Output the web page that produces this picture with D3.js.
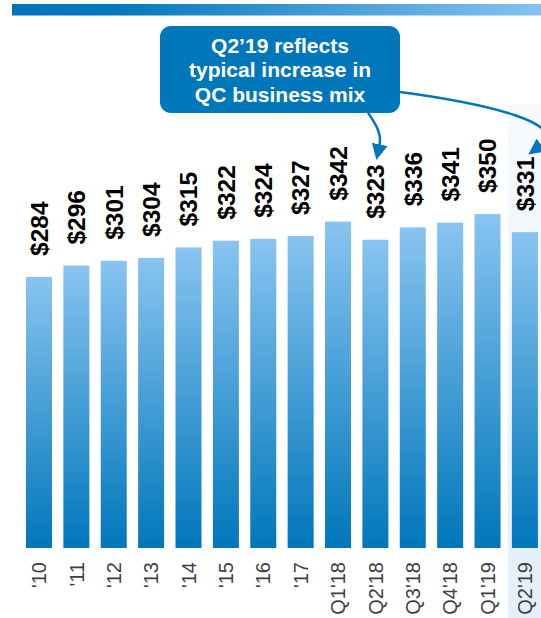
<!DOCTYPE html>
<html><head><meta charset="utf-8">
<script src="https://cdn.jsdelivr.net/npm/d3@7"></script>
<style>html,body{margin:0;padding:0;background:#fff;}svg{display:block;font-family:"Liberation Sans",Arial,sans-serif;}</style>
</head><body>
<script>
const categories = ["'10","'11","'12","'13","'14","'15","'16","'17","Q1'18","Q2'18","Q3'18","Q4'18","Q1'19","Q2'19"];
const values = [284,296,301,304,315,322,324,327,342,323,336,341,350,331];
const valueLabels = ["$284","$296","$301","$304","$315","$322","$324","$327","$342","$323","$336","$341","$350","$331"];
const calloutLines = ["Q2\u201919 reflects","typical increase in","QC business mix"];
const highlightCategory = "Q2'19";
const pointedCategories = ["Q2'18","Q2'19"];

const W = 541, H = 618;
const svg = d3.select("body").append("svg").attr("width", W).attr("height", H);
const defs = svg.append("defs");

const stripe = defs.append("linearGradient").attr("id","stripe").attr("x1","0").attr("x2","1").attr("y1","0").attr("y2","0");
stripe.append("stop").attr("offset","0").attr("stop-color","#0074b8");
stripe.append("stop").attr("offset","0.18").attr("stop-color","#0077bb");
stripe.append("stop").attr("offset","1").attr("stop-color","#86c2ef");

const barGrad = defs.append("linearGradient").attr("id","barGrad").attr("x1","0").attr("x2","0").attr("y1","0").attr("y2","1");
barGrad.append("stop").attr("offset","0").attr("stop-color","#88c4f0");
barGrad.append("stop").attr("offset","1").attr("stop-color","#0077bb");

const hlGrad = defs.append("linearGradient").attr("id","hlGrad").attr("x1","0").attr("x2","0").attr("y1","0").attr("y2","1");
hlGrad.append("stop").attr("offset","0").attr("stop-color","#f6faff");
hlGrad.append("stop").attr("offset","1").attr("stop-color","#e4eff9");

defs.append("marker").attr("id","arrow").attr("viewBox","0 0 10 10").attr("refX","1").attr("refY","5")
  .attr("markerWidth",16).attr("markerHeight",16).attr("markerUnits","userSpaceOnUse").attr("orient","auto")
  .append("path").attr("d","M0,0 L10,5 L0,10 Z").attr("fill","#0077bb");

const x = d3.scaleBand().domain(categories).range([20.3, 543.6]).paddingInner(0.304).paddingOuter(0.152);
const y = d3.scaleLinear().domain([0, 350]).range([548, 214]);

// top stripe
svg.append("rect").attr("x",12).attr("y",4).attr("width",W-12).attr("height",11.5).attr("fill","url(#stripe)");

// highlight panel
svg.append("rect").attr("x", x(highlightCategory) - 4).attr("y", 105).attr("width", W - (x(highlightCategory) - 4)).attr("height", H - 105).attr("fill","url(#hlGrad)");

// bars
svg.append("g").selectAll("rect").data(categories).join("rect")
  .attr("x", d => x(d)).attr("width", x.bandwidth())
  .attr("y", (d,i) => y(values[i])).attr("height", (d,i) => y(0) - y(values[i]))
  .attr("fill","url(#barGrad)");

// value labels
svg.append("g").selectAll("text").data(categories).join("text")
  .attr("transform", (d,i) => `translate(${x(d)+x.bandwidth()/2},${y(values[i]) - 21}) rotate(-90)`)
  .attr("dy","0.36em").attr("text-anchor","start")
  .attr("font-size",24.5).attr("font-weight","bold").attr("fill","#000")
  .text((d,i) => valueLabels[i]);

// axis tick labels
const xAxis = d3.axisBottom(x).tickSize(0).tickPadding(0);
const axG = svg.append("g").attr("transform","translate(0,562)").call(xAxis);
axG.select(".domain").remove();
axG.selectAll(".tick text")
  .attr("transform","rotate(-90)").attr("x",0).attr("y",0).attr("dy","0.36em")
  .attr("text-anchor","end").attr("font-size",20).attr("fill","#404040")
  .attr("font-family","\"Liberation Sans\",Arial,sans-serif");

// callout box
svg.append("rect").attr("x",160).attr("y",26).attr("width",240).attr("height",87).attr("rx",11).attr("fill","#0077bb");
svg.append("g").selectAll("text").data(calloutLines).join("text")
  .attr("x",280).attr("y",(d,i)=>53 + i*24.3).attr("text-anchor","middle")
  .attr("font-size",21).attr("font-weight","bold").attr("fill","#fff").text(d=>d);

// arrows
const a1x = x(pointedCategories[0]) + x.bandwidth()/2;
svg.append("path").attr("d", `M365,108 C374,122 ${a1x+7},132 ${a1x+4},146`)
  .attr("fill","none").attr("stroke","#0077bb").attr("stroke-width",2.5).attr("marker-end","url(#arrow)");
svg.append("path").attr("d", "M400,92 C490,104 570,124 540,146")
  .attr("fill","none").attr("stroke","#0077bb").attr("stroke-width",2.5).attr("marker-end","url(#arrow)");
</script>
</body></html>
